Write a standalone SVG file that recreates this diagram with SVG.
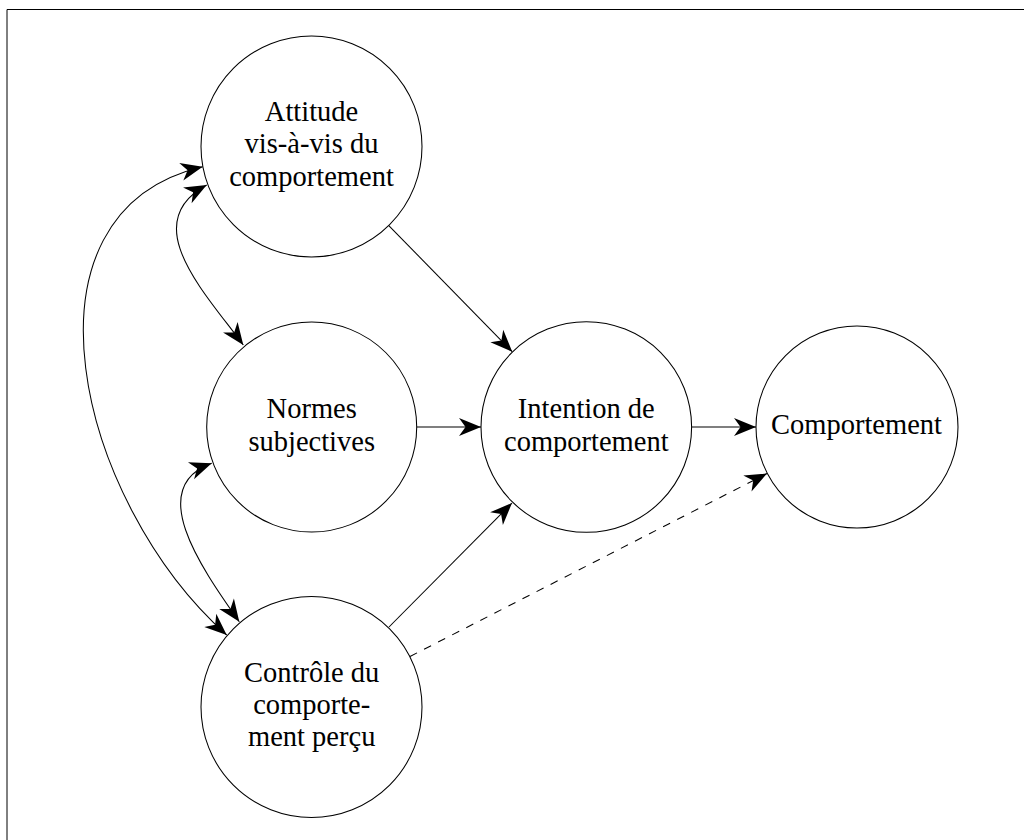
<svg xmlns="http://www.w3.org/2000/svg" width="1024" height="840" viewBox="0 0 1024 840">
<style>
.node circle{fill:#fff;stroke:#000;stroke-width:1.05}
.node text{font-family:"Liberation Serif","Times New Roman",serif;font-size:28.5px;fill:#000;text-anchor:middle}
.conn path{fill:none;stroke:#000;stroke-width:1.05}
.conn .dash{stroke-dasharray:7.9 7.9}
</style>
<defs>
<marker id="arr" markerUnits="userSpaceOnUse" viewBox="-24 -12 26 24" refX="0" refY="0" markerWidth="26" markerHeight="24" orient="auto-start-reverse" overflow="visible">
<path d="M0,0 L-22,-9 L-15.5,0 L-22,9 Z" fill="#000" stroke="none"/>
</marker>
</defs>
<rect width="1024" height="840" fill="#fff"/>
<path d="M7,840 V9.5 H1024" fill="none" stroke="#000" stroke-width="1"/>
<g id="connectors" class="conn">
<path d="M388.8,225.6 L512.2,351.7" marker-end="url(#arr)"/>
<path d="M416.7,427 L481,427" marker-end="url(#arr)"/>
<path d="M389,627 L512,503" marker-end="url(#arr)"/>
<path d="M691.5,427 L756,427" marker-end="url(#arr)"/>
<path class="dash" d="M410,656.5 L767,473.5" marker-end="url(#arr)"/>
<path d="M206.7,185 C136.3,223 205.5,293.2 243.3,345" marker-start="url(#arr)" marker-end="url(#arr)"/>
<path d="M211.7,463.3 C145.9,487.1 198.8,564.6 239.3,621.7" marker-start="url(#arr)" marker-end="url(#arr)"/>
<path d="M202.7,166.7 C7.9,212.3 77.5,501.8 226.7,635" marker-start="url(#arr)" marker-end="url(#arr)"/>
</g>
<g id="attitude" class="node">
<circle cx="311.5" cy="146.5" r="110.5"/>
<text x="311.5" y="121">Attitude</text>
<text x="311.5" y="153.3">vis-à-vis du</text>
<text x="311.5" y="185.7">comportement</text>
</g>
<g id="normes" class="node">
<circle cx="311.7" cy="427" r="105"/>
<text x="311.7" y="418.3">Normes</text>
<text x="311.7" y="450.7">subjectives</text>
</g>
<g id="intention" class="node">
<circle cx="586.3" cy="427" r="105.3"/>
<text x="586.3" y="418.3">Intention de</text>
<text x="586.3" y="450.5">comportement</text>
</g>
<g id="comportement" class="node">
<circle cx="857" cy="427" r="101"/>
<text x="856.5" y="434.3">Comportement</text>
</g>
<g id="controle" class="node">
<circle cx="311.5" cy="707" r="110.5"/>
<text x="311.7" y="681.7">Contrôle du</text>
<text x="311.7" y="714">comporte-</text>
<text x="311.7" y="746.3">ment perçu</text>
</g>
</svg>
